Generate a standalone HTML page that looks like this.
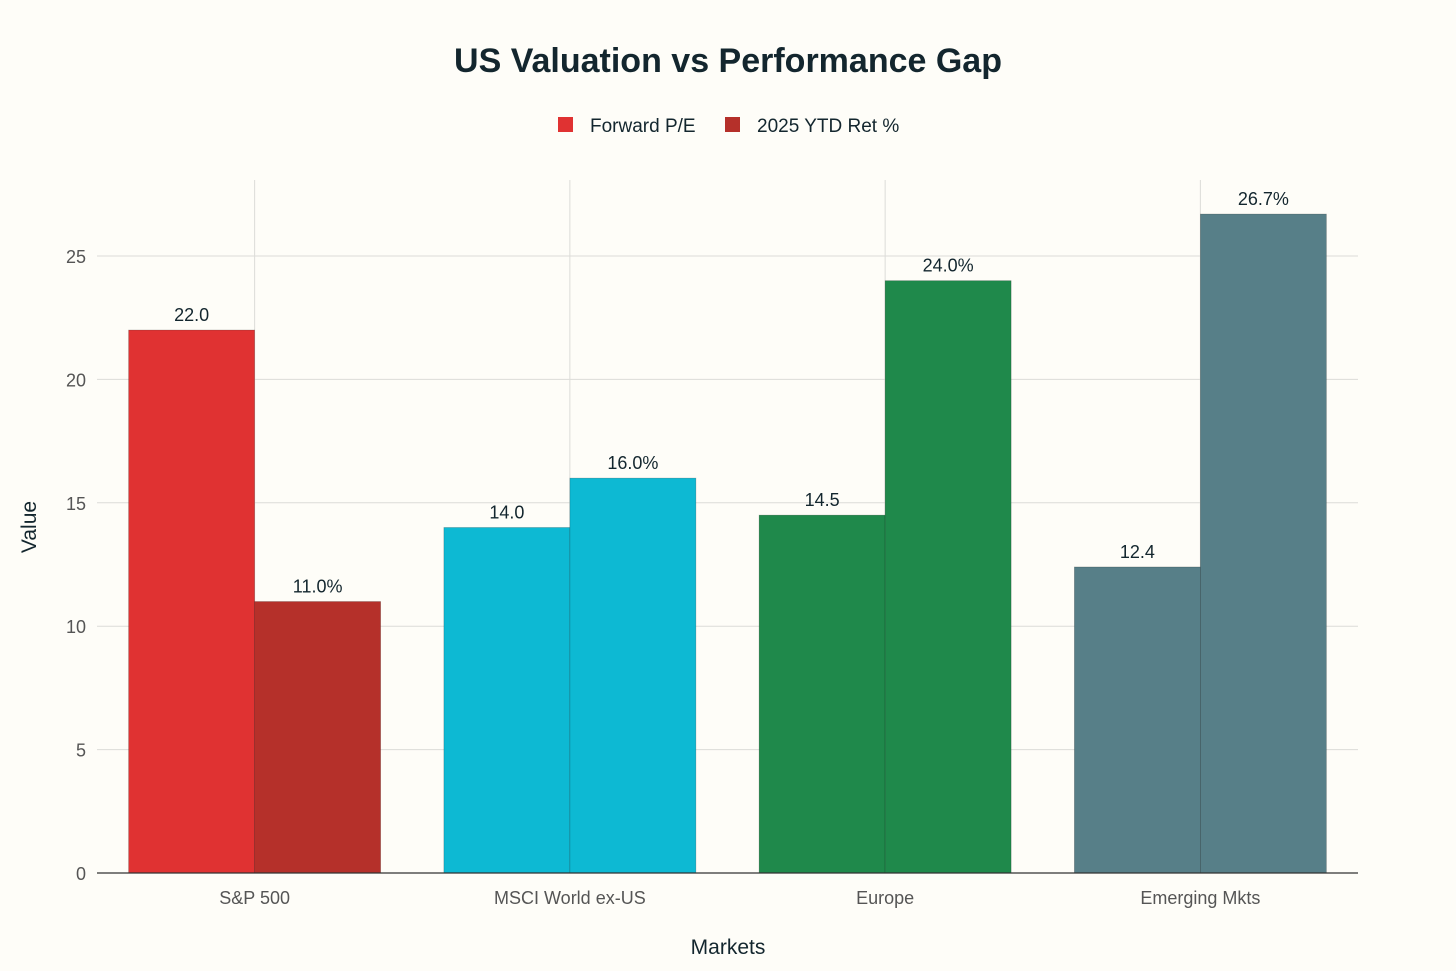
<!DOCTYPE html>
<html><head><meta charset="utf-8"><style>
html,body{margin:0;padding:0;background:#fefdf8;}
svg{display:block;font-family:"Liberation Sans",sans-serif;}
</style></head><body>
<svg id="chart" width="1456" height="971" viewBox="0 0 1456 971">
<rect x="0" y="0" width="1456" height="971" fill="#fefdf8"/>
<text x="728" y="72" text-anchor="middle" font-size="34" font-weight="bold" fill="#13262e">US Valuation vs Performance Gap</text>
<g>
<g><rect x="558" y="117" width="15" height="15" fill="#e03232"/><text x="590" y="132" font-size="19" fill="#13262e">Forward P/E</text></g>
<g><rect x="725" y="117" width="15" height="15" fill="#b5302a"/><text x="757" y="132" font-size="19" fill="#13262e">2025 YTD Ret %</text></g>
</g>
<g id="grid"></g>
<g id="bars"></g>
<g id="axes"></g>
<text x="36" y="527" text-anchor="middle" font-size="21" fill="#13262e" transform="rotate(-90 36 527)">Value</text>
<text x="728" y="954" text-anchor="middle" font-size="21" fill="#13262e">Markets</text>
</svg>
<script>
const categories = ["S&P 500","MSCI World ex-US","Europe","Emerging Mkts"];
const forwardPE = [22.0,14.0,14.5,12.4];
const ytdReturn = [11.0,16.0,24.0,26.7];
const yTicks = [0,5,10,15,20,25];
const peColors = ["#e03232","#0db9d3","#1f894b","#577f88"];
const retColors = ["#b5302a","#0db9d3","#1f894b","#577f88"];

const NS="http://www.w3.org/2000/svg";
const x0=97,x1=1358,yBase=873,yTop=180,unit=(873-256)/25;
const step=(x1-x0)/categories.length;
const y=v=>yBase-v*unit;
const xc=i=>x0+step*(i+0.5);
const bw=126;
function mk(tag,attrs,parent){const e=document.createElementNS(NS,tag);for(const k in attrs)e.setAttribute(k,attrs[k]);parent.appendChild(e);return e;}
const grid=document.getElementById('grid'),bars=document.getElementById('bars'),axes=document.getElementById('axes');
yTicks.forEach(t=>{
  if(t>0){const l=mk('line',{x1:x0,x2:x1,y1:y(t),y2:y(t),stroke:'#dcdcd8','stroke-width':1},grid);
  
  }
  const tx=mk('text',{x:86,y:y(t)+7,'text-anchor':'end','font-size':18,fill:'#555'},axes);
  tx.textContent=t;
  
  
});
categories.forEach((c,i)=>{
  const l=mk('line',{x1:xc(i),x2:xc(i),y1:yTop,y2:yBase,stroke:'#dcdcd8','stroke-width':1},grid);
  
  
  const b1=mk('rect',{x:xc(i)-bw,y:y(forwardPE[i]),width:bw,height:forwardPE[i]*unit,fill:peColors[i],stroke:'rgba(0,0,0,0.25)','stroke-width':0.7},bars);
  
  
  const b2=mk('rect',{x:xc(i),y:y(ytdReturn[i]),width:bw,height:ytdReturn[i]*unit,fill:retColors[i],stroke:'rgba(0,0,0,0.25)','stroke-width':0.7},bars);
  
  
  const t1=mk('text',{x:xc(i)-bw/2,y:y(forwardPE[i])-9,'text-anchor':'middle','font-size':18,fill:'#13262e'},bars);
  t1.textContent=forwardPE[i].toFixed(1);
  
  
  const t2=mk('text',{x:xc(i)+bw/2,y:y(ytdReturn[i])-9,'text-anchor':'middle','font-size':18,fill:'#13262e'},bars);
  t2.textContent=ytdReturn[i].toFixed(1)+'%';
  
  
  const cl=mk('text',{x:xc(i),y:904,'text-anchor':'middle','font-size':18,fill:'#555'},axes);
  cl.textContent=c;
  
  
});
const ax=mk('line',{x1:x0,x2:x1,y1:yBase,y2:yBase,stroke:'#333','stroke-width':1.2},axes);


</script>
</body></html>
